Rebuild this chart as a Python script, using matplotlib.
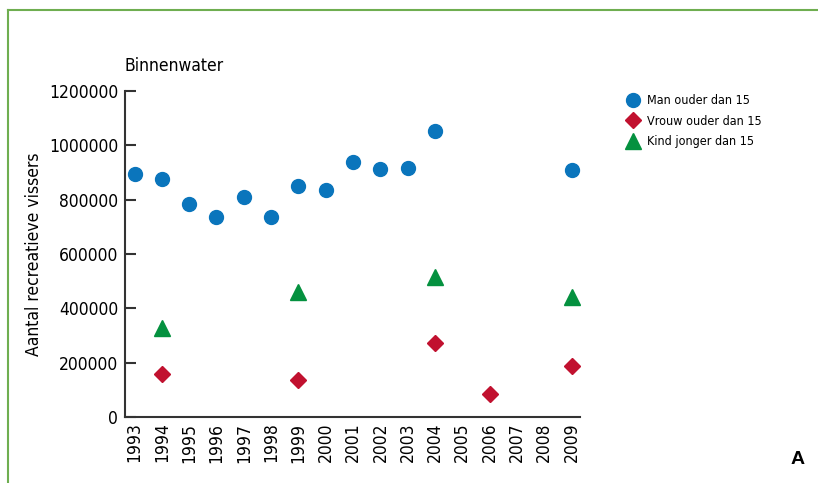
import numpy as np
import matplotlib.pyplot as plt
from matplotlib.lines import Line2D

# data
years = list(range(1993, 2010))
man_years = [1993, 1994, 1995, 1996, 1997, 1998, 1999, 2000, 2001, 2002, 2003, 2004, 2009]
man_vals = [894000, 876000, 784000, 736000, 810000, 736000, 850000, 835000, 938000, 913000, 916000, 1053000, 909000]
vrouw_years = [1994, 1999, 2004, 2006, 2009]
vrouw_vals = [158000, 136000, 272000, 85000, 188000]
kind_years = [1994, 1999, 2004, 2009]
kind_vals = [328000, 460000, 515000, 442000]

blue = '#0a75bc'
red = '#c1112f'
green = '#04913f'

plt.rcParams['font.family'] = ['DejaVu Sans']
plt.rcParams['font.stretch'] = 'condensed'

fig = plt.figure(figsize=(8.18, 4.83), dpi=100)
ax = fig.add_axes([0.1528, 0.1366, 0.556, 0.675])

pos = lambda ys: [years.index(y) for y in ys]
ax.plot(pos(man_years), man_vals, 'o', color=blue, markersize=10, linestyle='none')
ax.plot(pos(vrouw_years), vrouw_vals, 'D', color=red, markersize=8.5, linestyle='none')
ax.plot(pos(kind_years), kind_vals, '^', color=green, markersize=11, linestyle='none')

ax.set_xlim(-0.35, 16.3)
ax.set_ylim(0, 1200000)
ax.set_yticks(np.arange(0, 1200001, 200000))
ax.set_yticklabels([str(v) for v in range(0, 1200001, 200000)], fontsize=12.5)
ax.set_xticks(range(len(years)))
ax.set_xticklabels([str(y) for y in years], rotation=90, fontsize=12.5)
ax.tick_params(axis='x', length=0, pad=4)
ax.tick_params(axis='y', direction='in', length=8, width=1.5, color='#333333', pad=5)
for s in ['top', 'right']:
    ax.spines[s].set_visible(False)
for s in ['left', 'bottom']:
    ax.spines[s].set_linewidth(1.5)
    ax.spines[s].set_color('#333333')

ax.set_ylabel('Aantal recreatieve vissers', fontsize=12.5, labelpad=4.5)
fig.text(0.1528, 0.852, 'Binnenwater', fontsize=12.5, ha='left', va='baseline')

handles = [
    Line2D([], [], marker='o', color=blue, linestyle='none', markersize=10),
    Line2D([], [], marker='D', color=red, linestyle='none', markersize=8.5),
    Line2D([], [], marker='^', color=green, linestyle='none', markersize=11),
]
labels = ['Man ouder dan 15', 'Vrouw ouder dan 15', 'Kind jonger dan 15']
fig.legend(handles, labels, loc='upper left', bbox_to_anchor=(0.76, 0.815),
           frameon=False, fontsize=9, handlelength=1.0, handletextpad=0.6,
           labelspacing=0.6, borderaxespad=0)

fig.text(0.975, 0.04, 'A', fontsize=14, fontweight='bold', family='Liberation Sans',
         stretch='normal', ha='center', va='baseline')

# frame
fig.add_artist(Line2D([0.0098, 0.0098], [0, 0.979], color='#6fae50', linewidth=1.5))
fig.add_artist(Line2D([0.0098, 1.0], [0.979, 0.979], color='#6fae50', linewidth=1.5))

fig.savefig('out.png', dpi=100)
